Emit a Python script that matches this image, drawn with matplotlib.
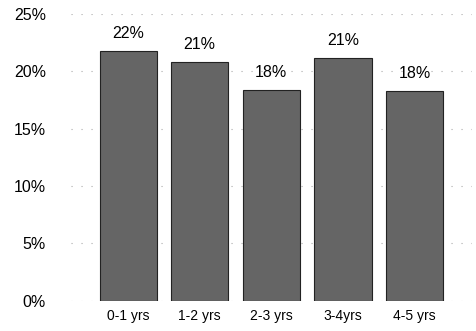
import matplotlib.pyplot as plt
import numpy as np

categories = ['0-1 yrs', '1-2 yrs', '2-3 yrs', '3-4yrs', '4-5 yrs']
values = [21.8, 20.8, 18.4, 21.2, 18.3]
labels = ['22%', '21%', '18%', '21%', '18%']
yticks = [0, 5, 10, 15, 20, 25]

plt.rcParams['font.family'] = ['Liberation Sans', 'DejaVu Sans']

fig = plt.figure(figsize=(4.76, 3.31), dpi=100)
ax = fig.add_axes([0.149, 0.091, 0.842, 0.867])

x = np.arange(len(categories))
ax.bar(x, values, width=0.8, color='#656565', edgecolor='#222222', linewidth=0.8, zorder=2)

for xi, v, lab in zip(x, values, labels):
    ax.annotate(lab, (xi, v), xytext=(0, 7), textcoords='offset points',
                ha='center', va='bottom', fontsize=11.5)

ax.set_xlim(-0.8, 4.8)
ax.set_ylim(0, 25)
ax.set_yticks(yticks)
ax.set_yticklabels([f'{t}%' for t in yticks], fontsize=11.5)
ax.set_xticks(x)
ax.set_xticklabels(categories, fontsize=10)
ax.tick_params(length=0, pad=6)
ax.tick_params(axis='y', pad=18)
ax.yaxis.grid(True, color='#aaaaaa', linestyle=(0, (1, 8)), linewidth=0.8, zorder=1)
for s in ax.spines.values():
    s.set_visible(False)

fig.savefig('out.png', dpi=100)
